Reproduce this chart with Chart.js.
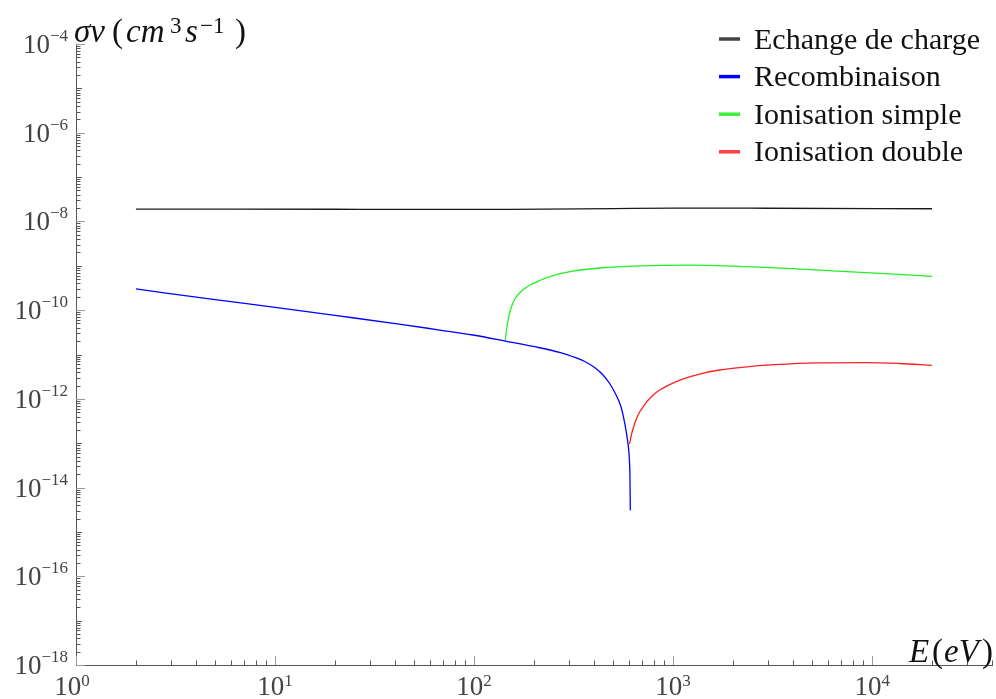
<!DOCTYPE html>
<html><head><meta charset="utf-8">
<script src="https://cdn.jsdelivr.net/npm/chart.js@4/dist/chart.umd.min.js"></script>
<style>html,body{margin:0;padding:0;background:#fff;} canvas{display:block;}</style>
</head><body>
<canvas id="c" width="996" height="699"></canvas>
<script>
// ---- data ----
const seriesLabels = ['Echange de charge', 'Recombinaison', 'Ionisation simple', 'Ionisation double'];
const energyEchange = [2, 20, 150, 500, 1000, 3000, 20000];
const sigmaEchange  = [1.9e-8, 1.88e-8, 1.87e-8, 1.95e-8, 2.0e-8, 1.98e-8, 1.93e-8];
const energyRecomb  = [2, 5, 10, 20, 42, 67.1, 98.6, 143.5, 213.4, 268.9, 313.8, 359.3, 403.3, 442.3, 479.7, 508.2, 532.3, 551.1, 567.3, 580.6, 590.8, 597.6, 603.2, 606.7, 609.4];
const sigmaRecomb   = [3.0e-10, 1.73e-10, 1.15e-10, 7.6e-11, 4.86e-11, 3.56e-11, 2.75e-11, 2.01e-11, 1.42e-11, 1.11e-11, 8.9e-12, 6.95e-12, 5.09e-12, 3.54e-12, 2.22e-12, 1.43e-12, 9.19e-13, 5.9e-13, 3.33e-13, 1.88e-13, 1.12e-13, 7.39e-14, 4.18e-14, 1.92e-14, 3.1e-15];
const energyIonS    = [143.5, 144.3, 145.7, 147.9, 150.8, 155.2, 161.6, 171.3, 185.7, 213.4, 258.9, 313.8, 427.3, 678.8, 1211, 2940, 6340, 20000];
const sigmaIonS     = [2.05e-11, 2.61e-11, 3.66e-11, 5.69e-11, 8.61e-11, 1.30e-10, 1.88e-10, 2.56e-10, 3.41e-10, 4.66e-10, 6.35e-10, 7.62e-10, 8.91e-10, 9.98e-10, 1.04e-9, 9.2e-10, 7.7e-10, 5.8e-10];
const energyIonD    = [604.3, 615.1, 629.5, 651.8, 678.8, 719.2, 779.9, 855.3, 960.3, 1116, 1359, 1713, 2288, 3237, 5245, 9352, 13746, 19950];
const sigmaIonD     = [9.6e-14, 1.45e-13, 2.14e-13, 3.42e-13, 5.04e-13, 7.44e-13, 1.13e-12, 1.58e-12, 2.10e-12, 2.80e-12, 3.63e-12, 4.47e-12, 5.22e-12, 5.89e-12, 6.49e-12, 6.59e-12, 6.27e-12, 5.7e-12];
const xTickExponents = [0, 1, 2, 3, 4];
const yTickExponents = [-18, -16, -14, -12, -10, -8, -6, -4];
const xAxisTitle = ['E', '(', 'eV', ')'];
const yAxisTitle = ['σv', '(', 'cm', '3', 's', '−1', ')'];

const lineColors   = ['#1a1a1a', '#0000ff', '#22f022', '#ff2020'];
const legendColors = ['#444444', '#0000ff', '#3cf03c', '#ff4040'];
const SERIF = "'Liberation Serif', 'DejaVu Serif', serif";

const pts = (xs, ys) => xs.map((x, i) => ({x: x, y: ys[i]}));
const sup = (n) => (n < 0 ? '−' + Math.abs(n) : String(n));

const decor = {
  id: 'decor',
  afterDraw(chart) {
    const ctx = chart.ctx;
    const xs = chart.scales.x, ys = chart.scales.y;
    const area = chart.chartArea;
    ctx.save();
    // ticks (pointing inward)
    ctx.lineWidth = 1;
    const xMinE = Math.floor(Math.log10(xs.min)), xMaxE = Math.ceil(Math.log10(xs.max));
    for (let e = xMinE; e <= xMaxE; e++) {
      for (let m = 1; m <= 9; m++) {
        const v = m * Math.pow(10, e);
        if (v < xs.min || v > xs.max * 1.0001) continue;
        const px = Math.round(xs.getPixelForValue(v)) + 0.5;
        const len = m === 1 ? 9 : 4.5;
        ctx.strokeStyle = m === 1 ? '#9a9a9a' : '#555';
        ctx.beginPath(); ctx.moveTo(px, area.bottom); ctx.lineTo(px, area.bottom - len); ctx.stroke();
      }
    }
    const yMinE = Math.floor(Math.log10(ys.min) + 1e-9), yMaxE = Math.ceil(Math.log10(ys.max) - 1e-9);
    for (let e = yMinE; e <= yMaxE; e++) {
      for (let m = 1; m <= 9; m++) {
        const v = m * Math.pow(10, e);
        if (v < ys.min * 0.9999 || v > ys.max * 1.0001) continue;
        const py = Math.round(ys.getPixelForValue(v)) + 0.5;
        let len = 4.5;
        if (m === 1) len = (e % 2 === 0) ? 9 : 6;
        ctx.strokeStyle = (m === 1 && e % 2 === 0) ? '#9a9a9a' : '#555';
        ctx.beginPath(); ctx.moveTo(area.left, py); ctx.lineTo(area.left + len, py); ctx.stroke();
      }
    }
    // tick labels
    ctx.fillStyle = '#444';
    ctx.textBaseline = 'alphabetic';
    const bigF = '27px ' + SERIF, smallF = '17px ' + SERIF;
    xTickExponents.forEach(e => {
      const px = xs.getPixelForValue(Math.pow(10, e));
      ctx.font = bigF; const w1 = ctx.measureText('10').width;
      ctx.font = smallF; const w2 = ctx.measureText(sup(e)).width;
      const x0 = px - (w1 + w2) / 2 - (e === xTickExponents[0] ? 4 : 0);
      ctx.textAlign = 'left';
      ctx.font = bigF; ctx.fillText('10', x0, 695);
      ctx.font = smallF; ctx.fillText(sup(e), x0 + w1, 686);
    });
    yTickExponents.forEach(e => {
      const py = ys.getPixelForValue(Math.pow(10, e));
      ctx.font = smallF; const w2 = ctx.measureText(sup(e)).width;
      const xr = area.left - 8;
      ctx.textAlign = 'right';
      ctx.fillText(sup(e), xr, py - 3);
      ctx.font = bigF; ctx.fillText('10', xr - w2, py + 9);
    });
    // axis titles
    ctx.fillStyle = '#111';
    ctx.textAlign = 'left';
    const it = 'italic 33px ' + SERIF, up = '33px ' + SERIF, su = '23px ' + SERIF;
    const place = (txt, font, x, y) => { ctx.font = font; ctx.fillText(txt, x, y); };
    place(yAxisTitle[0], it, 74, 42);
    place(yAxisTitle[1], up, 112, 42);
    place(yAxisTitle[2], it, 126, 42);
    place(yAxisTitle[3], su, 170, 33);
    place(yAxisTitle[4], it, 185, 42);
    place(yAxisTitle[5], su, 200, 33);
    place(yAxisTitle[6], up, 235, 42);
    place(xAxisTitle[0], it, 909, 662);
    place(xAxisTitle[1], up, 932, 662);
    place(xAxisTitle[2], it, 944, 662);
    place(xAxisTitle[3], up, 982, 662);
    // legend
    ctx.font = '30px ' + SERIF;
    chart.data.datasets.forEach((ds, i) => {
      const base = 48.5 + i * 37.6;
      ctx.strokeStyle = legendColors[i]; ctx.lineWidth = 3.5;
      ctx.beginPath(); ctx.moveTo(719, base - 9.5); ctx.lineTo(740, base - 9.5); ctx.stroke();
      ctx.fillStyle = '#111';
      ctx.fillText(ds.label, 754, base);
    });
    ctx.restore();
  }
};

new Chart(document.getElementById('c').getContext('2d'), {
  type: 'line',
  data: {
    datasets: [
      {label: seriesLabels[0], data: pts(energyEchange, sigmaEchange), borderColor: lineColors[0], borderWidth: 1.3},
      {label: seriesLabels[1], data: pts(energyRecomb, sigmaRecomb), borderColor: lineColors[1], borderWidth: 1.3},
      {label: seriesLabels[2], data: pts(energyIonS, sigmaIonS), borderColor: lineColors[2], borderWidth: 1.3},
      {label: seriesLabels[3], data: pts(energyIonD, sigmaIonD), borderColor: lineColors[3], borderWidth: 1.3}
    ]
  },
  options: {
    responsive: false,
    animation: false,
    devicePixelRatio: 1,
    layout: {padding: {top: 44, right: 4, left: 0, bottom: 0}},
    elements: {point: {radius: 0, hoverRadius: 0}, line: {cubicInterpolationMode: 'monotone', fill: false}},
    plugins: {legend: {display: false}, tooltip: {enabled: false}},
    scales: {
      x: {
        type: 'logarithmic', min: 1, max: 4e4,
        grid: {display: false, drawTicks: false},
        border: {display: true, color: '#555', width: 1},
        ticks: {display: false},
        afterFit(s) { s.height = 34; }
      },
      y: {
        type: 'logarithmic', min: 1e-18, max: 1e-4,
        grid: {display: false, drawTicks: false},
        border: {display: true, color: '#555', width: 1},
        ticks: {display: false},
        afterFit(s) { s.width = 76; }
      }
    }
  },
  plugins: [decor]
});
</script>
</body></html>
